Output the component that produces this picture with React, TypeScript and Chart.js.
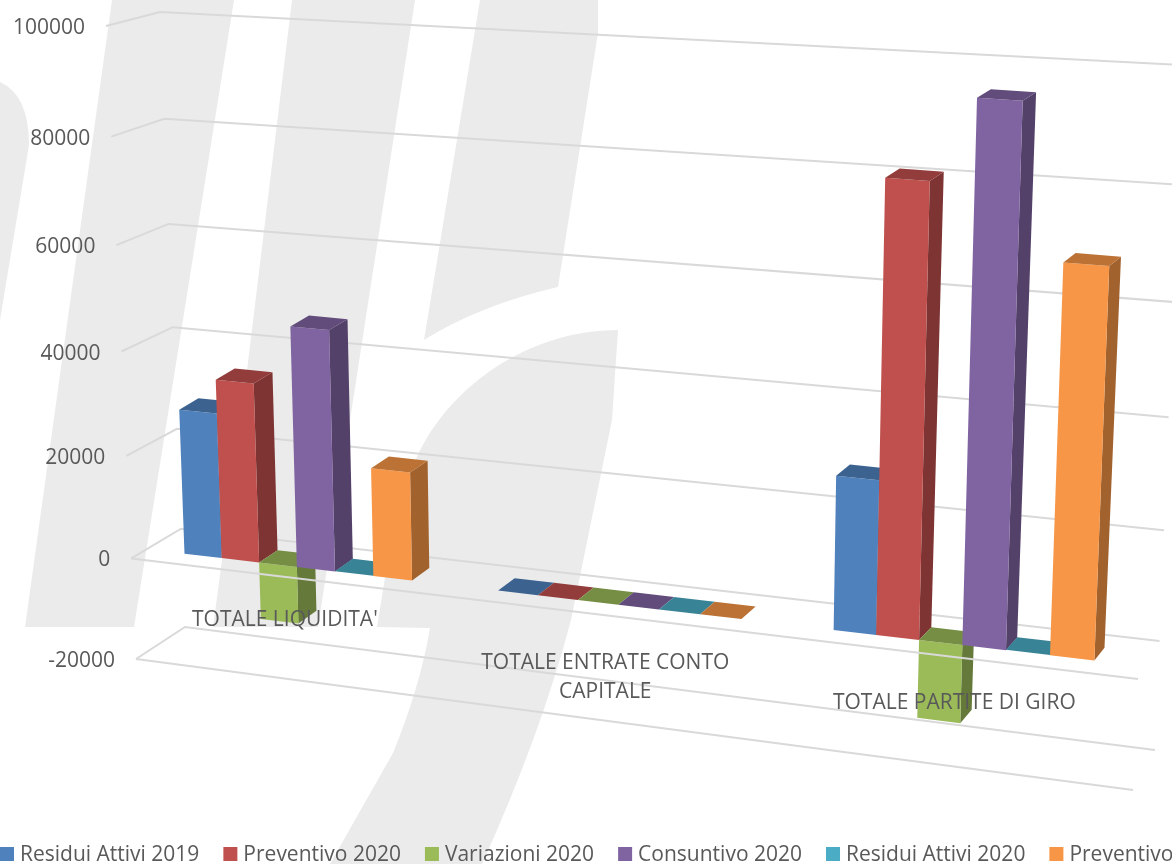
import React, { useEffect, useRef } from "react";
import { Chart, registerables } from "chart.js";

Chart.register(...registerables);

const categories: (string | string[])[] = [
  "TOTALE LIQUIDITA'",
  ["TOTALE ENTRATE CONTO", "CAPITALE"],
  "TOTALE PARTITE DI GIRO",
];
const seriesNames = [
  "Residui Attivi 2019",
  "Preventivo 2020",
  "Variazioni 2020",
  "Consuntivo 2020",
  "Residui Attivi 2020",
  "Preventivo 2021",
];
const residui2019 = [27850, 0, 28000];
const preventivo2020 = [34250, 0, 80800];
const variazioni2020 = [-11000, 0, -14300];
const consuntivo2020 = [45650, 0, 95300];
const residui2020 = [50, 0, 50];
const preventivo2021 = [20500, 0, 68700];

const seriesValues = [residui2019, preventivo2020, variazioni2020, consuntivo2020, residui2020, preventivo2021];
const seriesColors = ["#4F81BD", "#C0504D", "#9BBB59", "#8064A2", "#4BACC6", "#F79646"];

type P = [number, number];
// Camera: where each plane's plot-area corners land on screen (TL, TR, BR, BL).
const FRONT: P[] = [[123, 18], [1168, 81], [1139, 777], [148, 650]];
const BACK: P[] = [[143, 8], [1180, 73], [1148, 763], [167, 637]];
const WALL: P[] = [[160, 12], [1183, 65], [1155, 750], [185, 627]];
const EDGE: P[] = [[106, 26], [1165, 88], [1133, 790], [136, 659]];
// Category label placement relative to the group's zero point.
const LABEL_NUDGE: P[] = [[-12, 53], [-13, 58], [-8, 58]];

function homography(q: P[]) {
  const [[x0, y0], [x1, y1], [x2, y2], [x3, y3]] = q;
  const dx1 = x1 - x2, dx2 = x3 - x2, sx = x0 - x1 + x2 - x3;
  const dy1 = y1 - y2, dy2 = y3 - y2, sy = y0 - y1 + y2 - y3;
  const den = dx1 * dy2 - dx2 * dy1;
  const g = (sx * dy2 - dx2 * sy) / den;
  const h = (dx1 * sy - sx * dy1) / den;
  const a = x1 - x0 + g * x1, b = x3 - x0 + h * x3, c = x0;
  const d = y1 - y0 + g * y1, e = y3 - y0 + h * y3, f = y0;
  return (s: number, t: number): P => {
    const w = g * s + h * t + 1;
    return [(a * s + b * t + c) / w, (d * s + e * t + f) / w];
  };
}

function shade(hex: string, k: number) {
  const n = parseInt(hex.slice(1), 16);
  const r = Math.round(((n >> 16) & 255) * k);
  const g = Math.round(((n >> 8) & 255) * k);
  const b = Math.round((n & 255) * k);
  return `rgb(${r},${g},${b})`;
}

const FONT = '"Open Sans", sans-serif';
const TEXT = "#595959";
const GRID = "#D9D9D9";
const WATERMARK = "#EBEBEB";

function drawWatermark(ctx: CanvasRenderingContext2D) {
  ctx.save();
  ctx.fillStyle = WATERMARK;
  const a = new Path2D("M0,82 Q29,95 29,145 L0,320 Z");
  const b = new Path2D("M112,0 L234,0 L134,627 L25,627 Z");
  const c = new Path2D("M292,0 L415,0 L350,420 L318,627 L213,627 L241,420 Z");
  const d = new Path2D(
    "M618,330 L612,420 L571,620 C550,700 520,780 482,864 L330,864 L393,753 Q420,687 430,628 L377,627 L390,547 Q400,490 417,457 C450,385 530,330 618,330 Z"
  );
  const e = new Path2D("M480,0 L598,0 L598,33 L558,287 Q480,305 424,340 Z");
  [a, b, c, d, e].forEach((p) => ctx.fill(p));
  ctx.restore();
}

const plugin3d = {
  id: "perspective3d",
  beforeDraw(chart: any) {
    drawWatermark(chart.ctx);
  },
  beforeDatasetsDraw(chart: any) {
    const ctx: CanvasRenderingContext2D = chart.ctx;
    const area = chart.chartArea;
    const xs = chart.scales.x;
    const ys = chart.scales.y;
    const norm = (x: number, y: number): P => [
      (x - area.left) / (area.right - area.left),
      (y - area.top) / (area.bottom - area.top),
    ];
    const hf = homography(FRONT);
    const hb = homography(BACK);
    const hw = homography(WALL);
    const he = homography(EDGE);
    const F = (x: number, y: number) => hf(...norm(x, y));
    const B = (x: number, y: number) => hb(...norm(x, y));

    const line = (pts: P[]) => {
      ctx.beginPath();
      pts.forEach((p, i) => (i ? ctx.lineTo(p[0], p[1]) : ctx.moveTo(p[0], p[1])));
      ctx.strokeStyle = GRID;
      ctx.lineWidth = 2;
      ctx.stroke();
    };
    const quad = (pts: P[], fill: string) => {
      ctx.beginPath();
      pts.forEach((p, i) => (i ? ctx.lineTo(p[0], p[1]) : ctx.moveTo(p[0], p[1])));
      ctx.closePath();
      ctx.fillStyle = fill;
      ctx.fill();
    };

    // Back wall and left-side grid lines
    ys.ticks.forEach((tick: any) => {
      const t = norm(area.left, ys.getPixelForValue(tick.value))[1];
      line([he(0, t), hw(0, t), hw(1, t)]);
    });

    // Bars, left to right so each one hides its neighbour's side face
    chart.data.labels.forEach((_: any, ci: number) => {
      chart.data.datasets.forEach((ds: any, di: number) => {
        const el = chart.getDatasetMeta(di).data[ci];
        const { x, y, base, width } = el.getProps(["x", "y", "base", "width"], true);
        const l = x - width / 2;
        const r = x + width / 2;
        const top = Math.min(y, base);
        const bot = Math.max(y, base);
        const col = ds.backgroundColor;
        if (bot - top > 0.5) {
          quad([F(r, top), B(r, top), B(r, bot), F(r, bot)], shade(col, 0.65));
          quad([F(l, top), F(r, top), F(r, bot), F(l, bot)], col);
        }
        quad([F(l, top), B(l, top), B(r, top), F(r, top)], shade(col, 0.76));
      });
    });

    // Front floor edges run over the bars
    ys.ticks.forEach((tick: any) => {
      if (tick.value > 0) return;
      const t = norm(area.left, ys.getPixelForValue(tick.value))[1];
      line([he(0, t), he(1, t)]);
    });

    // Value axis labels
    ctx.fillStyle = TEXT;
    ctx.font = `21px ${FONT}`;
    ctx.textAlign = "right";
    ctx.textBaseline = "middle";
    ys.ticks.forEach((tick: any) => {
      const t = norm(area.left, ys.getPixelForValue(tick.value))[1];
      const p = he(0, t);
      ctx.fillText(String(tick.value), p[0] - 21, p[1] + 2);
    });

    // Category labels
    ctx.textAlign = "center";
    ctx.font = `21px ${FONT}`;
    categories.forEach((label, i) => {
      const p = F(xs.getPixelForValue(i), ys.getPixelForValue(0));
      const lines = Array.isArray(label) ? label : [label];
      lines.forEach((txt, j) => {
        ctx.fillText(txt, p[0] + LABEL_NUDGE[i][0], p[1] + LABEL_NUDGE[i][1] + j * 29);
      });
    });

    // Legend, running off the right edge as in the source picture
    ctx.textAlign = "left";
    ctx.font = `21px ${FONT}`;
    let lx = 0;
    chart.data.datasets.forEach((ds: any) => {
      ctx.fillStyle = ds.backgroundColor;
      ctx.fillRect(lx, 847, 14, 14);
      ctx.fillStyle = TEXT;
      ctx.fillText(ds.label, lx + 20, 855);
      lx += 20 + ctx.measureText(ds.label).width + 24;
    });

    return false;
  },
};

export default function App() {
  const ref = useRef<HTMLCanvasElement>(null);
  useEffect(() => {
    const chart = new Chart(ref.current as HTMLCanvasElement, {
      type: "bar",
      data: {
        labels: categories as any,
        datasets: seriesNames.map((label, i) => ({
          label,
          data: seriesValues[i],
          backgroundColor: seriesColors[i],
          barPercentage: 1,
          categoryPercentage: 0.732,
        })),
      },
      options: {
        animation: false,
        responsive: false,
        layout: { padding: 0 },
        plugins: { legend: { display: false }, tooltip: { enabled: false } },
        scales: {
          x: { display: true, grid: { display: false }, border: { display: false }, ticks: { display: false } },
          y: {
            min: -20000,
            max: 100000,
            grid: { display: false },
            border: { display: false },
            ticks: { stepSize: 20000, display: false },
          },
        },
      },
      plugins: [plugin3d as any],
    });
    return () => chart.destroy();
  }, []);
  return (
    <div style={{ position: "fixed", left: 0, top: 0, width: 1172, height: 864, overflow: "hidden", background: "#fff" }}>
      <canvas ref={ref} width={1172} height={864} style={{ display: "block" }} />
    </div>
  );
}
